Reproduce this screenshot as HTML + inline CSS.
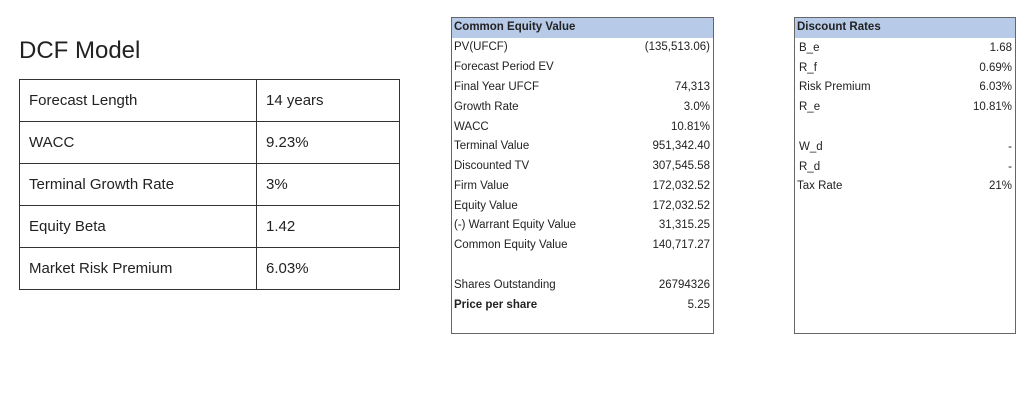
<!DOCTYPE html>
<html><head><meta charset="utf-8"><style>
body{margin:0;width:1026px;height:402px;background:#fff;position:relative;font-family:"Liberation Sans",sans-serif;overflow:hidden}
.abs{position:absolute;white-space:nowrap}
#title{left:19px;top:37px;font-size:24px;color:#222}
#lt{position:absolute;left:19px;top:79px;width:380px;table-layout:fixed;border-collapse:collapse;font-size:15px;color:#222}
#lt td{border:1px solid #333;height:42px;padding:0 0 0 9px;box-sizing:border-box}
.box{position:absolute;border:1px solid #666;box-sizing:border-box;font-size:11.5px;color:#222}
.hdr{position:absolute;left:0;right:0;top:0;height:20px;background:#b7cbe8;font-weight:bold;font-size:11.5px;padding:3px 0 0 2px;box-sizing:border-box}
.row{position:absolute;left:2px;right:3px;height:18px}
.row span{position:absolute}
.row .v{right:0}
</style></head><body>
<div id="title" class="abs">DCF Model</div>
<table id="lt">
<colgroup><col style="width:237px"><col style="width:143px"></colgroup>
<tr><td>Forecast Length</td><td>14 years</td></tr>
<tr><td>WACC</td><td>9.23%</td></tr>
<tr><td>Terminal Growth Rate</td><td>3%</td></tr>
<tr><td>Equity Beta</td><td>1.42</td></tr>
<tr><td>Market Risk Premium</td><td>6.03%</td></tr>
</table>
<div class="box" id="mid" style="left:451px;top:17px;width:263px;height:317px">
<div class="hdr">Common Equity Value</div>
</div>
<div class="box" id="rt" style="left:794px;top:17px;width:222px;height:317px">
<div class="hdr">Discount Rates</div>
</div>
<script>
const midLabels=["PV(UFCF)","Forecast Period EV","Final Year UFCF","Growth Rate","WACC","Terminal Value","Discounted TV","Firm Value","Equity Value","(-) Warrant Equity Value","Common Equity Value","Shares Outstanding","Price per share"];
const midValues=["(135,513.06)","","74,313","3.0%","10.81%","951,342.40","307,545.58","172,032.52","172,032.52","31,315.25","140,717.27","26794326","5.25"];
const midTops=[23,43,63,83,103,122,142,162,182,201,221,261,281];
const rtLabels=["B_e","R_f","Risk Premium","R_e","W_d","R_d","Tax Rate"];
const rtValues=["1.68","0.69%","6.03%","10.81%","-","-","21%"];
const rtTops=[24,44,63,83,123,143,162];
function fill(id,labels,values,tops,indent,boldLast){
  const box=document.getElementById(id);
  labels.forEach((l,i)=>{
    const r=document.createElement('div');r.className='row';r.style.top=tops[i]+'px';
    
    
    const a=document.createElement('span');a.textContent=l;a.style.left=(indent&&l!=="Tax Rate"?2:0)+'px';
    const b=document.createElement('span');b.className='v';b.textContent=values[i];
    if(boldLast&&i===labels.length-1){a.style.fontWeight='bold';}
    r.appendChild(a);r.appendChild(b);box.appendChild(r);
  });
}
fill('mid',midLabels,midValues,midTops,false,true);
fill('rt',rtLabels,rtValues,rtTops,true,false);
</script>
</body></html>
